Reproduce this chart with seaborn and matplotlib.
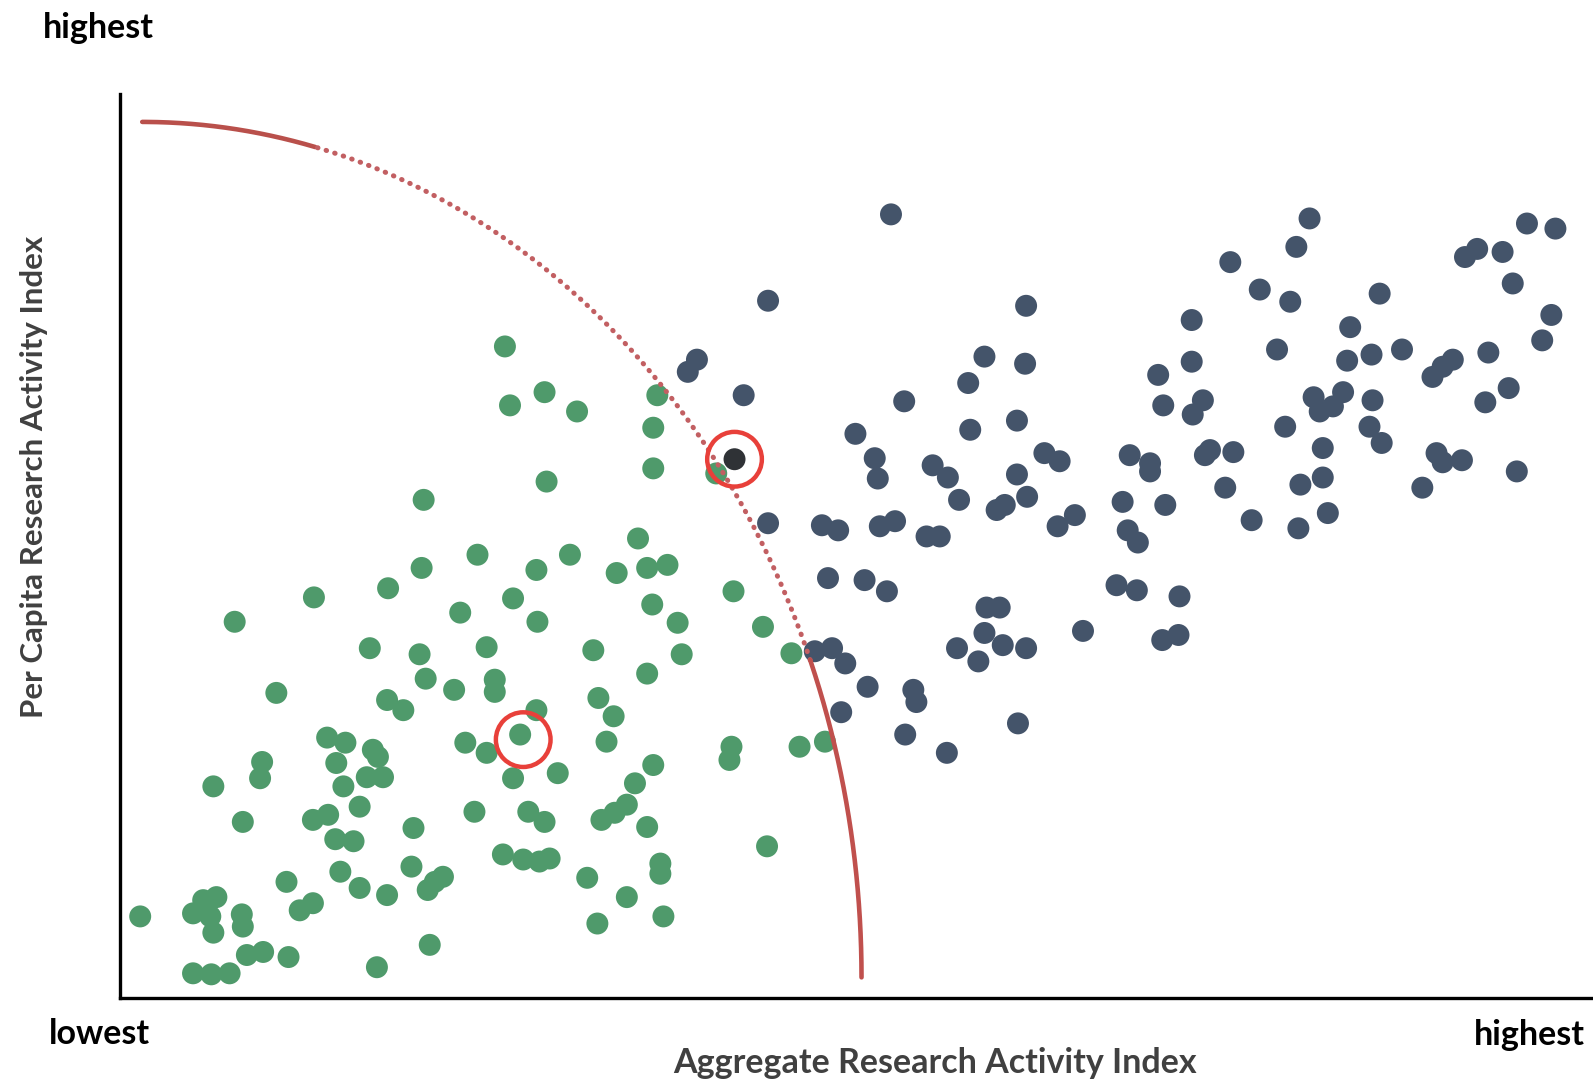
import numpy as np
import pandas as pd
import matplotlib
matplotlib.use("Agg")
import matplotlib.pyplot as plt
import seaborn as sns

# ---------------- data (index units) ----------------
green_x = [379, 418, 384, 450, 529, 525, 525, 420, 299, 587, 510, 443, 352, 297, 410, 489, 519, 539,
           264, 191, 387, 524, 335, 113, 411, 549, 604, 633, 246, 295, 361, 466, 553, 661, 301, 329,
           369, 369, 519, 154, 263, 279, 471, 486, 410, 204, 222, 249, 340, 361, 394, 479, 140, 213,
           254, 243, 259, 602, 600, 669, 694, 525, 92, 138, 220, 236, 387, 431, 507, 121, 190, 205,
           289, 349, 402, 418, 474, 487, 499, 519, 212, 230, 377, 397, 413, 423, 532, 532, 637, 287,
           217, 164, 310, 318, 303, 236, 460, 263, 499, 470, 535, 305, 82, 95, 72, 89, 92, 20,
           120, 121, 177, 190, 125, 141, 166, 253, 72, 90, 108, 85]
green_y = [641, 596, 583, 577, 593, 561, 521, 508, 490, 516, 452, 436, 436, 423, 421, 418, 423, 426,
           403, 394, 393, 387, 379, 370, 370, 369, 400, 365, 344, 338, 345, 342, 338, 339, 314, 303,
           313, 301, 319, 300, 293, 283, 295, 277, 283, 256, 251, 244, 251, 241, 259, 252, 232, 231,
           237, 217, 217, 247, 234, 247, 252, 229, 208, 216, 208, 188, 216, 221, 211, 173, 175, 180,
           167, 183, 183, 173, 175, 182, 190, 168, 156, 154, 141, 136, 134, 137, 132, 122, 149, 129,
           124, 114, 114, 119, 106, 108, 118, 101, 99, 73, 80, 52, 96, 99, 83, 80, 64, 80,
           82, 70, 86, 93, 42, 45, 40, 30, 24, 23, 24, 89]

dark_x = [759, 638, 892, 568, 559, 614, 851, 891, 835, 772, 724, 837, 883, 743, 746, 800, 815, 910,
          925, 883, 826, 893, 863, 871, 923, 940, 638, 691, 707, 748, 763, 794, 807, 697, 733, 755,
          981, 1001, 1043, 853, 866, 851, 824, 869, 892, 845, 948, 1026, 1042, 684, 701, 714, 736,
          781, 784, 710, 773, 884, 814,
          1171, 1158, 1093, 1122, 1152, 1240, 1385, 1413, 1324, 1336, 1361, 1371, 1409, 1400, 1055,
          1211, 1139, 1208, 1232, 1262, 1055, 1022, 1027, 1066, 1056, 1292, 1302, 1312, 1347, 1367,
          1344, 1175, 1204, 1181, 1194, 1233, 1230, 1242, 1147, 1184, 994, 1014, 1014, 1068, 1073,
          1096, 1296, 1302, 1321, 1375, 1282, 1162, 1184, 1088, 987, 1029, 1114, 1189, 1160, 992, 1002]
dark_y = [771, 686, 681, 628, 616, 593, 631, 624, 605, 587, 555, 559, 568, 531, 511, 524, 512, 536,
          528, 515, 490, 493, 480, 485, 464, 475, 467, 465, 460, 464, 469, 454, 454, 413, 411, 400,
          406, 401, 395, 384, 384, 359, 344, 347, 344, 331, 361, 352, 357, 341, 344, 329, 306,
          303, 291, 281, 259, 270, 241,
          767, 739, 724, 697, 685, 693, 762, 757, 729, 737, 734, 703, 672, 647, 667,
          660, 638, 627, 633, 638, 626, 613, 583, 588, 574, 611, 621, 628, 635, 600,
          586, 591, 596, 577, 582, 588, 562, 546, 562, 541, 534, 526, 518, 534, 539,
          537, 536, 527, 529, 518, 502, 505, 512, 502, 488, 485, 470, 477, 462, 460, 448]

highlight_x = [605]
highlight_y = [530]
ring_x = [605, 397]
ring_y = [530, 254]

x_limits = (0, 1450)
y_limits = (0, 889)

# frontier arc (quarter ellipse) in index units
arc_cx, arc_cy, arc_rx, arc_ry = 22, 20, 708, 842
arc_solid_top = (1.328, np.pi / 2)
arc_dotted = (0.38, 1.328)
arc_solid_bottom = (0.0, 0.38)

GREEN = "#4f9a6b"
DARK = "#44546a"
ARC = "#c0504d"
RING = "#e8403a"

# ---------------- figure ----------------
sns.set_theme(style="white")
plt.rcParams["font.family"] = ["Lato", "DejaVu Sans"]

W, H = 1568, 1064  # reference geometry
fig = plt.figure(figsize=(15.93, 10.81), dpi=100)
ax = fig.add_axes([118 / W, 82 / H, 1 - 118 / W, (982 - 93) / H])

df = pd.concat([
    pd.DataFrame({"x": green_x, "y": green_y, "group": "lower"}),
    pd.DataFrame({"x": dark_x, "y": dark_y, "group": "upper"}),
    pd.DataFrame({"x": highlight_x, "y": highlight_y, "group": "highlight"}),
], ignore_index=True)

sns.scatterplot(data=df, x="x", y="y", hue="group",
                palette={"lower": GREEN, "upper": DARK, "highlight": "#2f3236"},
                s=250, linewidth=0, alpha=1.0, legend=False, ax=ax, zorder=3)


def arc(t0, t1, n=200):
    t = np.linspace(t0, t1, n)
    return arc_cx + arc_rx * np.cos(t), arc_cy + arc_ry * np.sin(t)


xs, ys = arc(*arc_solid_top)
ax.plot(xs, ys, color="#b9504b", lw=3.3, solid_capstyle="round", zorder=4)
xs, ys = arc(*arc_dotted, n=600)
ax.plot(xs, ys, color="#c25f62", lw=3.6, linestyle=(0, (0.1, 1.7)),
        dash_capstyle="round", zorder=4)
xs, ys = arc(*arc_solid_bottom)
ax.plot(xs, ys, color=ARC, lw=3.3, solid_capstyle="round", zorder=4)

ax.scatter(ring_x, ring_y, s=1550, facecolors="none", edgecolors=RING,
           linewidths=3.2, zorder=5)

ax.set_xlim(*x_limits)
ax.set_ylim(*y_limits)
ax.set_xticks([])
ax.set_yticks([])
ax.set_xlabel("")
ax.set_ylabel("")
for side in ("top", "right"):
    ax.spines[side].set_visible(False)
for side in ("left", "bottom"):
    ax.spines[side].set_color("black")
    ax.spines[side].set_linewidth(2.4)

fig.text(97 / W, 1 - 28 / H, "highest", ha="center", va="center",
         fontsize=24.5, fontweight="bold", color="black")
fig.text(98 / W, 1 - 1018 / H, "lowest", ha="center", va="center",
         fontsize=24.5, fontweight="bold", color="black")
fig.text(1505 / W, 1 - 1019 / H, "highest", ha="center", va="center",
         fontsize=24.5, fontweight="bold", color="black")
fig.text(920 / W, 1 - 1046 / H, "Aggregate Research Activity Index", ha="center",
         va="center", fontsize=24.5, fontweight="bold", color="#404040")
fig.text(33 / W, 1 - 469 / H, "Per Capita Research Activity Index", ha="center",
         va="center", rotation=90, fontsize=22.5, fontweight="bold", color="#404040")

fig.savefig("out.png", dpi=100, facecolor="white")
